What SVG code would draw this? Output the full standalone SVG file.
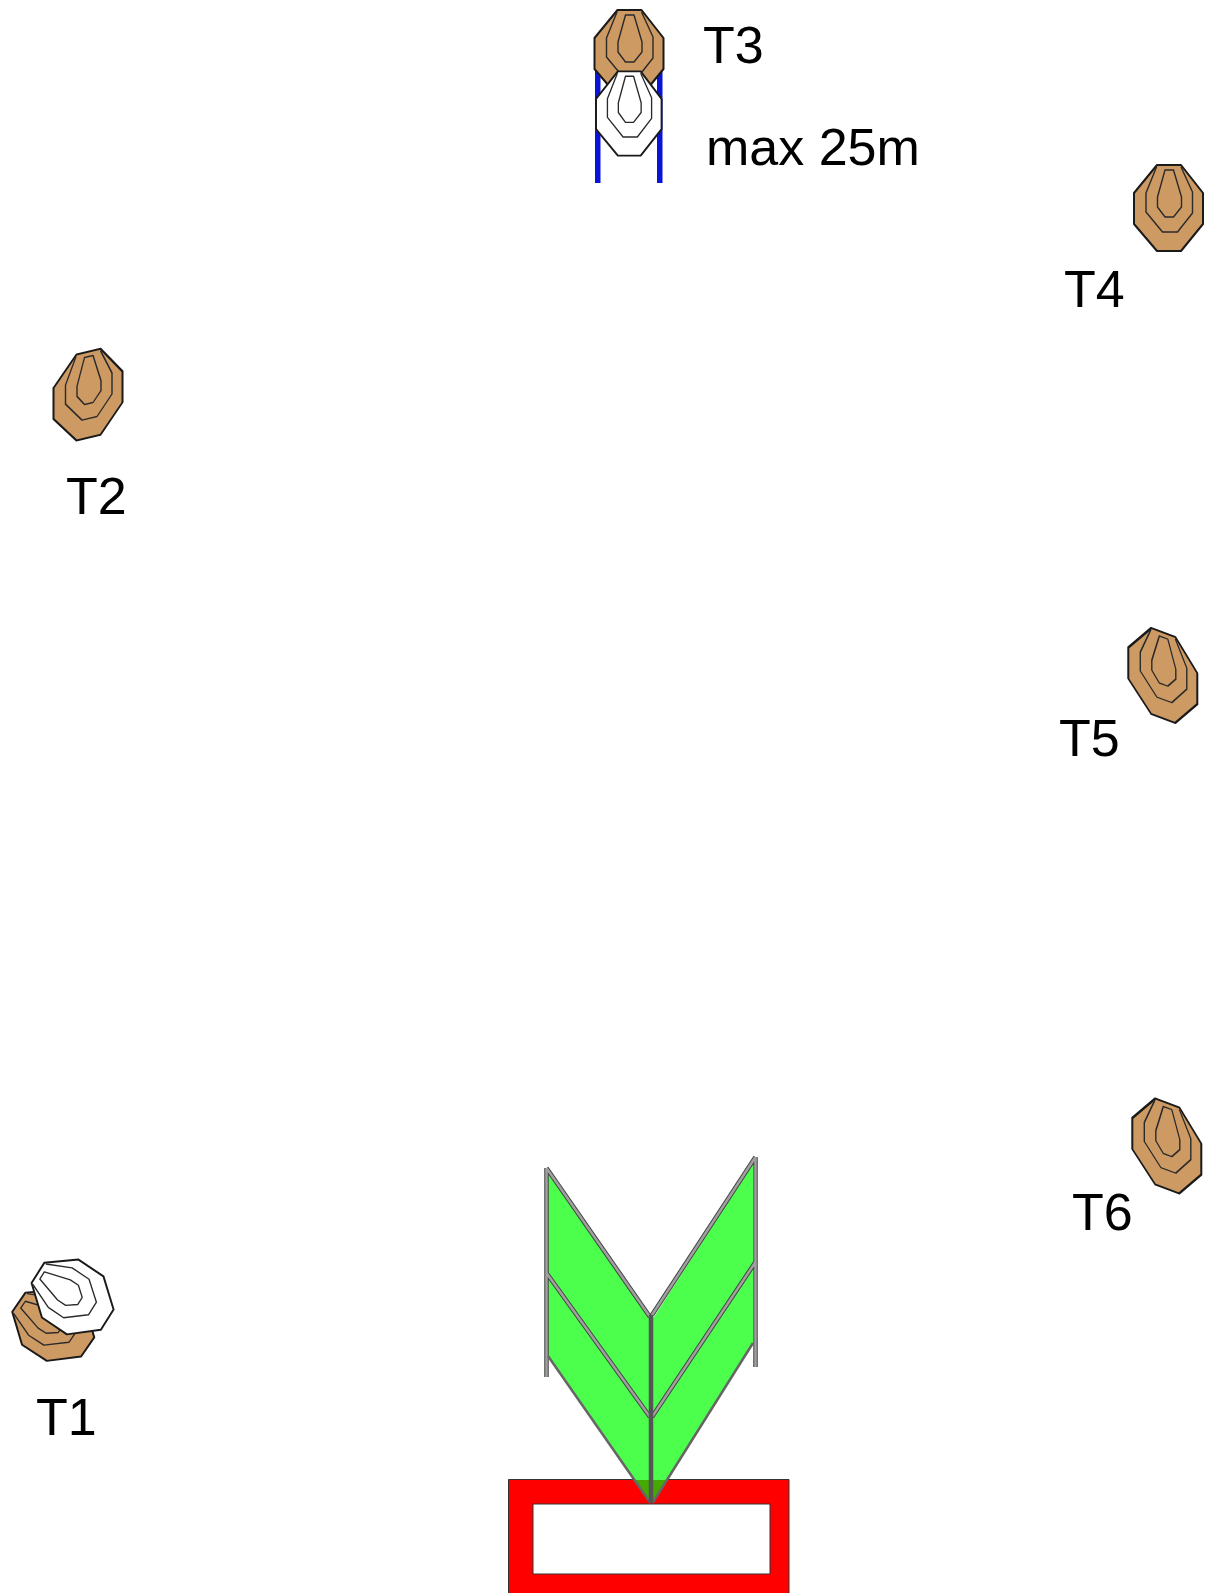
<svg xmlns="http://www.w3.org/2000/svg" width="1207" height="1593" viewBox="0 0 1207 1593">
<style>
.lbl{font-family:"Liberation Sans",Arial,sans-serif;font-size:52px;fill:#000}
.o{stroke:#1a1a1a;stroke-width:2;stroke-linejoin:round}
.r{fill:none;stroke:#2a2a2a;stroke-width:1.400;stroke-linejoin:round}
.brown{fill:#cd9a63}
.white{fill:#fff}
.bar{fill:none;stroke:#444;stroke-width:4.500}
.barc{fill:none;stroke:#a0a0a0;stroke-width:2.500}
</style>
<defs>
<g id="rings">
<path class="r" d="M-12,-41 L-22.5,-15 L-22.5,4 L-6,24 L9,24 L24,5 L24,-16 L12.500,-41"/>
<path class="r" d="M-3.500,-38 L5,-38 L13,-11 L13,-1 L5,9 L-3.500,9 L-11,-1 L-11,-11 Z"/>
</g>
<polygon id="outline" points="-11.500,-43 12.500,-43 34.500,-15 34.500,16 12.500,43 -11.500,43 -34.500,16 -34.500,-15"/>
</defs>
<rect width="1207" height="1593" fill="#fff"/>
<g id="t3-lane">
<rect x="595" y="70" width="5.500" height="113" fill="#0a14d8"/>
<rect x="657" y="70" width="5.500" height="113" fill="#0a14d8"/>
</g>
<g id="T3">
<use href="#outline" class="o brown" transform="translate(629 53)"/>
<use href="#rings" transform="translate(629 53)"/>
<text class="lbl" x="703" y="63">T3</text>
</g>
<g id="T3-white">
<use href="#outline" class="o white" transform="matrix(.95,0,0,.98,628.800,113.500)"/>
<use href="#rings" transform="matrix(.95,0,0,.98,628.800,113.500)"/>
</g>
<text class="lbl" x="706" y="165">max 25m</text>
<g id="T4">
<use href="#outline" class="o brown" transform="translate(1168.500 208)"/>
<use href="#rings" transform="translate(1168.500 208)"/>
<text class="lbl" x="1064" y="307">T4</text>
</g>
<g id="T2">
<use href="#outline" class="o brown" transform="matrix(1,-.24,0,1,88,394.700)"/>
<use href="#rings" transform="matrix(1,-.24,0,1,88,394.700)"/>
<text class="lbl" x="66" y="514">T2</text>
</g>
<g id="T5">
<use href="#outline" class="o brown" transform="matrix(1,.37,0,1,1162.800,675.300)"/>
<use href="#rings" transform="matrix(1,.37,0,1,1162.800,675.300)"/>
<text class="lbl" x="1059" y="756">T5</text>
</g>
<g id="T6">
<use href="#outline" class="o brown" transform="matrix(1,.37,0,1,1166.800,1145.800)"/>
<use href="#rings" transform="matrix(1,.37,0,1,1166.800,1145.800)"/>
<text class="lbl" x="1072" y="1230">T6</text>
</g>
<g id="T1">
<use href="#outline" class="o brown" transform="matrix(.55,-.8,.8,.52,53,1325)"/>
<use href="#rings" transform="matrix(.55,-.8,.8,.52,53,1325)"/>
<use href="#outline" class="o white" transform="matrix(.53,-.84,.806,.543,72.300,1296.700)"/>
<use href="#rings" transform="matrix(.53,-.84,.806,.543,72.300,1296.700)"/>
<text class="lbl" x="36" y="1435">T1</text>
</g>
<g id="box">
<path fill="#f00" fill-rule="evenodd" stroke="#333" stroke-width="1" d="M508.500,1479.500 H789 V1600 H508.500 Z M533,1504 V1574 H770 V1504 Z"/>
</g>
<g id="fence">
<polygon fill="#4dff4d" points="548,1172 650,1317 654,1317 753,1163 753,1343 651.500,1503 548,1356"/>
<polygon fill="#44aa00" points="635.500,1480 666.500,1480 651.500,1503"/>
<g class="connectors">
<path class="bar" d="M546.500,1168 V1377 M546.500,1168 L650,1317 M755.500,1157 V1367 M755.500,1157 L652,1315 M546.500,1273 L650,1417 M755.500,1262 L652,1417"/>
<path class="barc" d="M546.500,1168 V1377 M546.500,1168 L650,1317 M755.500,1157 V1367 M755.500,1157 L652,1315 M546.500,1273 L650,1417 M755.500,1262 L652,1417"/>
<path fill="none" stroke="#666" stroke-width="2.500" d="M548,1356 L650.500,1503 M753,1343 L652.500,1503"/>
<path fill="none" stroke="#555" stroke-width="4.500" d="M651,1315 V1503"/>
</g>
</g>
</svg>
